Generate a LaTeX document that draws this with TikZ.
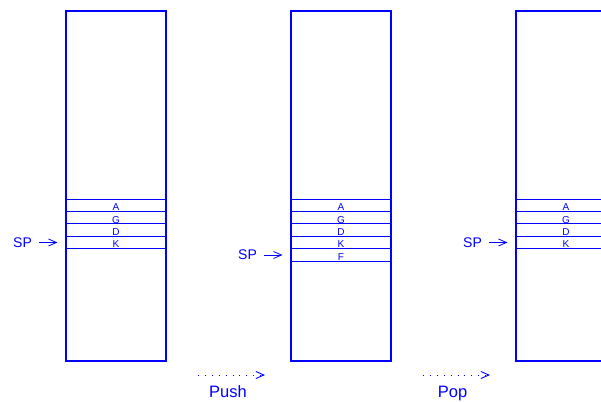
\documentclass[tikz,border=0pt]{standalone}
\usepackage{fontspec}
\setmainfont{Liberation Sans}
\usetikzlibrary{arrows.meta}
\definecolor{ink}{RGB}{0,0,255}
\tikzset{
  stackbox/.style={draw=ink, line width=1.1pt, minimum width=100pt, minimum height=350pt, inner sep=0pt},
  cell/.style={draw=ink, line width=1pt, minimum width=100pt, minimum height=12.4pt, inner sep=0pt},
  cellname/.style={text=ink, font=\fontsize{10}{10}\selectfont, anchor=base, inner sep=0pt},
  splabel/.style={text=ink, font=\fontsize{14}{14}\selectfont, inner sep=0pt},
  ptr/.style={draw=ink, line width=0.8pt, -{Straight Barb[length=8pt,width=7pt]}},
  opstep/.style={draw=ink, line width=0.9pt, dash pattern=on 0.9pt off 6pt, -{Straight Barb[length=8pt,width=7pt]}},
  oplabel/.style={text=ink, font=\fontsize{16.5}{16.5}\selectfont, anchor=base, inner sep=0pt}
}
\begin{document}
\begin{tikzpicture}[x=1pt,y=-1pt]
\useasboundingbox (0,0) rectangle (601,401);
\clip (0,0) rectangle (601,401);

% three snapshots of the stack
\node[stackbox] (s1) at (116,186) {};
\node[stackbox] (s2) at (341,186) {};
\node[stackbox] (s3) at (566,186) {};

% cells: before push, after push, after pop
\foreach \s/\cx in {1/116, 2/341, 3/566} {
  \foreach \lab [count=\i from 0] in {A,G,D,K} {
    \node[cell] (c\s\i) at (\cx, 205.2+12.4*\i) {};
    \node[cellname] (t\s\i) at (\cx, 210.6+12.4*\i) {\lab};
  }
}
\node[cell] (c24) at (341, 254.8) {};
\node[cellname] (t24) at (341, 260.2) {F};

% stack pointers
\node[splabel] (sp1) at (22.5,242.5) {SP};
\node[splabel] (sp2) at (247.5,255) {SP};
\node[splabel] (sp3) at (472.5,242.5) {SP};
\draw[ptr, shorten <=7pt, shorten >=8pt] (sp1.east) -- (sp1.east -| s1.west);
\draw[ptr, shorten <=7pt, shorten >=8pt] (sp2.east) -- (sp2.east -| s2.west);
\draw[ptr, shorten <=7pt, shorten >=8pt] (sp3.east) -- (sp3.east -| s3.west);

% operations
\coordinate (push0) at (198,375);
\coordinate (push1) at (265,375);
\coordinate (pop0) at (423,375);
\coordinate (pop1) at (490,375);
\draw[opstep] (push0) -- (push1);
\draw[opstep] (pop0) -- (pop1);
\node[oplabel] (pushlab) at (228,397) {Push};
\node[oplabel] (poplab) at (452.5,397) {Pop};
\end{tikzpicture}
\end{document}
